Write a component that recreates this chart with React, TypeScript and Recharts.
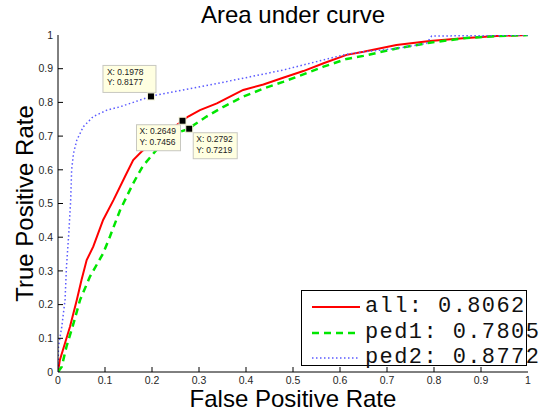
import { Legend, Line, LineChart, ReferenceDot, XAxis, YAxis } from "recharts";

// ROC points: [false positive rate, true positive rate]
const allRoc: [number, number][] = [
  [0, 0], [0.004, 0.036], [0.015, 0.086], [0.0255, 0.134], [0.04, 0.214],
  [0.05, 0.273], [0.061, 0.332], [0.075, 0.372], [0.096, 0.451], [0.118, 0.51],
  [0.1426, 0.58], [0.16, 0.629], [0.178, 0.654], [0.2, 0.68], [0.23, 0.71],
  [0.2649, 0.7456], [0.277, 0.758], [0.302, 0.777], [0.338, 0.797], [0.366, 0.817],
  [0.394, 0.837], [0.437, 0.853], [0.479, 0.873], [0.522, 0.893], [0.565, 0.916],
  [0.614, 0.941], [0.65, 0.95], [0.72, 0.97], [0.791, 0.982], [0.862, 0.99],
  [0.933, 0.997], [1, 1],
];

const ped1Roc: [number, number][] = [
  [0, 0], [0.008, 0.016], [0.018, 0.075], [0.033, 0.144], [0.047, 0.214],
  [0.068, 0.283], [0.096, 0.352], [0.11, 0.4], [0.132, 0.48], [0.16, 0.56],
  [0.18, 0.61], [0.21, 0.66], [0.231, 0.678], [0.26, 0.713], [0.2792, 0.7219],
  [0.289, 0.733], [0.316, 0.758], [0.352, 0.787], [0.394, 0.817], [0.437, 0.841],
  [0.479, 0.861], [0.522, 0.883], [0.565, 0.906], [0.614, 0.929], [0.65, 0.938],
  [0.72, 0.96], [0.791, 0.977], [0.862, 0.99], [0.933, 0.997], [1, 1],
];

const ped2Roc: [number, number][] = [
  [0, 0], [0.001, 0.075], [0.008, 0.134], [0.015, 0.214], [0.018, 0.312],
  [0.023, 0.412], [0.027, 0.51], [0.029, 0.6], [0.033, 0.649], [0.04, 0.688],
  [0.054, 0.728], [0.075, 0.758], [0.104, 0.777], [0.132, 0.787], [0.1978, 0.8177],
  [0.21, 0.822], [0.266, 0.837], [0.338, 0.856], [0.409, 0.876], [0.479, 0.896],
  [0.55, 0.921], [0.614, 0.943], [0.65, 0.95], [0.72, 0.96], [0.784, 0.975],
  [0.795, 0.997], [0.9, 0.998], [1, 1],
];

const aucValues = ["0.8062", "0.7805", "0.8772"];
const seriesNames = ["all", "ped1", "ped2"];

// data cursors placed in the original figure
const tipPoints: [number, number][] = [
  [0.1978, 0.8177],
  [0.2649, 0.7456],
  [0.2792, 0.7219],
];

const ticks = [0, 0.1, 0.2, 0.3, 0.4, 0.5, 0.6, 0.7, 0.8, 0.9, 1];
const tickLabels = ["0", "0.1", "0.2", "0.3", "0.4", "0.5", "0.6", "0.7", "0.8", "0.9", "1"];

const toRows = (pts: [number, number][]) => pts.map(([x, y]) => ({ x, y }));

const series = [
  { key: "all", data: toRows(allRoc), color: "#ff0000", width: 2, dash: undefined },
  { key: "ped1", data: toRows(ped1Roc), color: "#00e600", width: 2.5, dash: "7 5" },
  { key: "ped2", data: toRows(ped2Roc), color: "#5a5aff", width: 1.5, dash: "1.5 2.5" },
];

// box offsets relative to each cursor point (styling only)
const tipBoxes = [
  { dx: -48, dy: -31, w: 53, h: 27, pad: 4 },
  { dx: -46, dy: 4, w: 44, h: 26, pad: 3 },
  { dx: 4, dy: 4, w: 44, h: 26, pad: 3 },
];

const fmt = (v: number) => tickLabels[ticks.indexOf(v)] ?? String(v);
const tickColor = "#262626";

function BottomTick({ x, y, payload }: any) {
  return (
    <g>
      {payload.value > 0 && payload.value < 1 && (
        <line x1={x} y1={y} x2={x} y2={y - 5} stroke="#000" />
      )}
      <text x={x} y={y + 5} dy="0.71em" textAnchor="middle" fontSize={10.5} fill={tickColor}>
        {fmt(payload.value)}
      </text>
    </g>
  );
}

function LeftTick({ x, y, payload }: any) {
  return (
    <g>
      {payload.value > 0 && payload.value < 1 && (
        <line x1={x} y1={y} x2={x + 5} y2={y} stroke="#000" />
      )}
      <text x={x - 5} y={y} dy="0.36em" textAnchor="end" fontSize={10.5} fill={tickColor}>
        {fmt(payload.value)}
      </text>
    </g>
  );
}

function TopTick({ x, y, payload }: any) {
  if (payload.value <= 0 || payload.value >= 1) return <g />;
  return <line x1={x} y1={y} x2={x} y2={y + 5} stroke="#000" />;
}

function RightTick({ x, y, payload }: any) {
  if (payload.value <= 0 || payload.value >= 1) return <g />;
  return <line x1={x} y1={y} x2={x - 5} y2={y} stroke="#000" />;
}

function DataTip(props: any, i: number) {
  const { cx, cy } = props;
  const b = tipBoxes[i];
  const [tx, ty] = tipPoints[i];
  const bx = cx + b.dx;
  const by = cy + b.dy;
  return (
    <g>
      <rect x={bx} y={by} width={b.w} height={b.h} fill="#ffffe1" stroke="#c8c8c0" />
      <text x={bx + b.pad} y={by + 9.5} fontSize={8.5} fill="#222">
        X: {tx.toFixed(4)}
      </text>
      <text x={bx + b.pad} y={by + 20} fontSize={8.5} fill="#222">
        Y: {ty.toFixed(4)}
      </text>
      <rect x={cx - 3.5} y={cy - 3.5} width={7} height={7} fill="#000" stroke="#f4f4d8" strokeWidth={1} />
    </g>
  );
}

function LegendBox() {
  return (
    <div
      style={{
        position: "relative",
        width: 226,
        height: 76,
        boxSizing: "border-box",
        border: "1px solid #000",
        background: "#fff",
        fontFamily: "'Liberation Mono', 'DejaVu Sans Mono', monospace",
        fontSize: 22,
        letterSpacing: 1.4,
        color: "#111",
        whiteSpace: "nowrap",
      }}
    >
      {series.map((s, i) => (
        <div
          key={s.key}
          style={{ position: "absolute", left: 9, top: 4 + i * 25.5, height: 24, display: "flex", alignItems: "center" }}
        >
          <svg width={50} height={24} style={{ overflow: "visible" }}>
            <line x1={1} y1={12} x2={49} y2={12} stroke={s.color} strokeWidth={s.width} strokeDasharray={s.dash} />
          </svg>
          <span style={{ marginLeft: 4, lineHeight: "24px" }}>
            {seriesNames[i]}: {aucValues[i]}
          </span>
        </div>
      ))}
    </div>
  );
}

export default function App() {
  return (
    <div
      style={{
        position: "absolute",
        left: 0,
        top: 0,
        width: 541,
        height: 416,
        background: "#fff",
        fontFamily: "'Liberation Sans', Arial, sans-serif",
      }}
    >
      <div
        style={{
          position: "absolute",
          left: 58,
          width: 470,
          top: 0,
          textAlign: "center",
          fontSize: 24,
          lineHeight: "29px",
          color: "#000",
        }}
      >
        Area under curve
      </div>
      <LineChart width={541} height={416} margin={{ top: 35, right: 13, bottom: 0, left: 0 }}>
        <XAxis
          dataKey="x"
          type="number"
          domain={[0, 1]}
          ticks={ticks}
          allowDataOverflow
          height={44}
          tickSize={0}
          tickMargin={0}
          tickLine={false}
          stroke="#000"
          tick={BottomTick}
          interval={0}
          label={{
            value: "False Positive Rate",
            position: "insideBottom",
            offset: 9,
            fontSize: 24,
            fill: "#000",
          }}
        />
        <XAxis
          xAxisId="top"
          orientation="top"
          dataKey="x"
          type="number"
          domain={[0, 1]}
          ticks={ticks}
          height={0}
          tickSize={0}
          tickMargin={0}
          tickLine={false}
          stroke="#000"
          tick={TopTick}
          interval={0}
        />
        <YAxis
          dataKey="y"
          type="number"
          domain={[0, 1]}
          ticks={ticks}
          allowDataOverflow
          width={58}
          tickSize={0}
          tickMargin={0}
          tickLine={false}
          stroke="#000"
          tick={LeftTick}
          interval={0}
          label={({ viewBox }: any) => {
            const cy = viewBox.y + viewBox.height / 2;
            return (
              <text x={33} y={cy} transform={`rotate(-90 33 ${cy})`} textAnchor="middle" fontSize={24} fill="#000">
                True Positive Rate
              </text>
            );
          }}
        />
        <YAxis
          yAxisId="right"
          orientation="right"
          type="number"
          domain={[0, 1]}
          ticks={ticks}
          width={0}
          tickSize={0}
          tickMargin={0}
          tickLine={false}
          stroke="#000"
          tick={RightTick}
          interval={0}
        />
        {series.map((s) => (
          <Line
            key={s.key}
            data={s.data}
            dataKey="y"
            name={s.key}
            type="linear"
            stroke={s.color}
            strokeWidth={s.width}
            strokeDasharray={s.dash}
            dot={false}
            isAnimationActive={false}
          />
        ))}
        {tipPoints.map(([x, y], i) => (
          <ReferenceDot key={i} x={x} y={y} r={3} shape={(p: any) => DataTip(p, i)} ifOverflow="visible" />
        ))}
        <Legend
          layout="vertical"
          align="center"
          verticalAlign="middle"
          wrapperStyle={{ left: 301, top: 290, width: 226, height: 76, right: "auto", bottom: "auto" }}
          content={() => <LegendBox />}
        />
      </LineChart>
    </div>
  );
}
